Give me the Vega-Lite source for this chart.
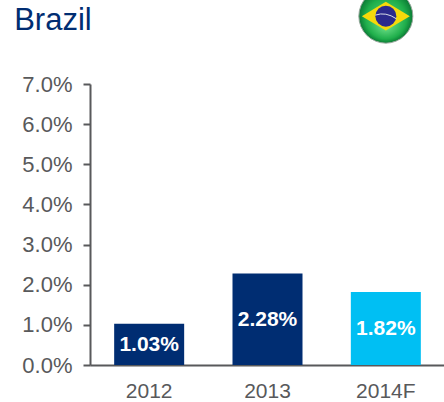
{"$schema":"https://vega.github.io/schema/vega-lite/v6.json","width":355,"height":281,"padding":{"left":90,"top":84,"right":0,"bottom":37},"autosize":"none","background":"white","view":{"stroke":null},
"data":{"values":[{"year":"2012","value":1.03,"label":"1.03%","c":"a"},{"year":"2013","value":2.28,"label":"2.28%","c":"a"},{"year":"2014F","value":1.82,"label":"1.82%","c":"b"}]},
"layer":[
{"mark":{"type":"bar","size":70},"encoding":{"x":{"field":"year","type":"nominal","title":null,"axis":{"labelAngle":0,"labelFont":"Liberation Sans","labelFontSize":21,"labelColor":"#58595B","domainColor":"#58595B","domainWidth":2,"ticks":false,"labelPadding":15}},"y":{"field":"value","type":"quantitative","title":null,"scale":{"domain":[0,7]},"axis":{"values":[0,1,2,3,4,5,6,7],"format":".1f","labelExpr":"datum.label + '%'","grid":false,"labelFont":"Liberation Sans","labelFontSize":22,"labelColor":"#58595B","domainColor":"#58595B","domainWidth":2,"tickColor":"#58595B","tickWidth":2,"tickSize":7,"labelPadding":11}},"color":{"field":"c","type":"nominal","legend":null,"scale":{"domain":["a","b"],"range":["#002D72","#00BFF3"]}}}},
{"transform":[{"calculate":"datum.value/2","as":"mid"}],"mark":{"type":"text","color":"white","fontWeight":"bold","font":"Liberation Sans","fontSize":21,"baseline":"middle","dy":1},"encoding":{"x":{"field":"year","type":"nominal"},"y":{"field":"mid","type":"quantitative"},"text":{"field":"label"}}},
{"data":{"values":[{"year":"2012","pos":8.345,"t":"Brazil"}]},"mark":{"type":"text","clip":false,"align":"left","baseline":"alphabetic","dx":-135,"font":"Liberation Sans","fontSize":31,"color":"#002D72"},"encoding":{"x":{"field":"year","type":"nominal"},"y":{"field":"pos","type":"quantitative"},"text":{"field":"t"}}},
{"data":{"values":[{"year":"2014F","flag":8.69}]},"mark":{"type":"point","filled":true,"clip":false,"size":2916,"shape":"circle","opacity":1,"fill":{"gradient":"radial","x1":0.5,"y1":0.7,"r1":0,"x2":0.5,"y2":0.5,"r2":0.5,"stops":[{"offset":0,"color":"#6FE08A"},{"offset":0.75,"color":"#1FAE4B"},{"offset":1,"color":"#0B7A35"}]},"stroke":"#9aa89e","strokeWidth":1},"encoding":{"x":{"field":"year","type":"nominal"},"y":{"field":"flag","type":"quantitative"}}},
{"data":{"values":[{"year":"2014F","flag":8.69}]},"mark":{"type":"point","filled":true,"clip":false,"size":2304,"shape":"M-1 0L0 -0.6L1 0L0 0.6Z","opacity":1,"fill":"#F5D90A"},"encoding":{"x":{"field":"year","type":"nominal"},"y":{"field":"flag","type":"quantitative"}}},
{"data":{"values":[{"year":"2014F","flag":8.69}]},"mark":{"type":"point","filled":true,"clip":false,"size":441,"shape":"circle","opacity":1,"fill":"#2B2A8C"},"encoding":{"x":{"field":"year","type":"nominal"},"y":{"field":"flag","type":"quantitative"}}},
{"data":{"values":[{"year":"2014F","flag":8.69}]},"mark":{"type":"point","filled":false,"clip":false,"size":441,"shape":"M-1 -0.1Q0 -0.45 1 0.25","opacity":1,"stroke":"#D8DDE8","strokeWidth":1},"encoding":{"x":{"field":"year","type":"nominal"},"y":{"field":"flag","type":"quantitative"}}}
]}
